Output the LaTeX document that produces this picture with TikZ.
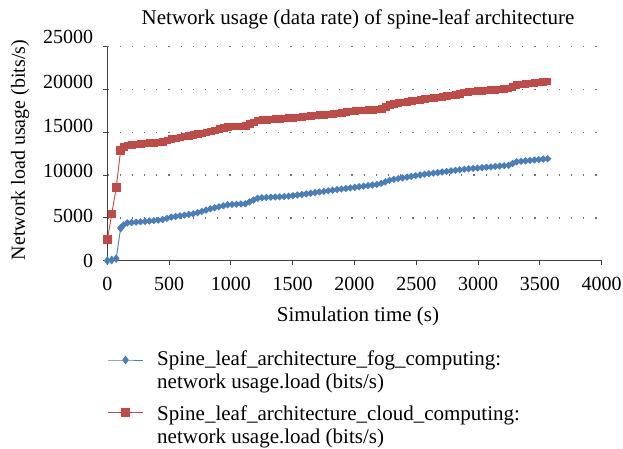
\documentclass[tikz,border=0pt]{standalone}
\usepackage{fontspec}
\setmainfont{Liberation Serif}
\usetikzlibrary{plotmarks,decorations.markings}

\definecolor{fogblue}{HTML}{4A7EBB}
\definecolor{cloudred}{HTML}{BE4B48}

\tikzset{
  every node/.style={font=\fontsize{21}{23.3}\selectfont, inner sep=0pt},
  ticklabel/.style={font=\fontsize{20}{22}\selectfont},
  axisline/.style={black!75, line width=0.9pt},
  gridline/.style={black!55, line width=1.3pt, dash pattern=on 1.3pt off 10.9pt},
  fogline/.style={fogblue, line width=0.9pt},
  cloudline/.style={cloudred, line width=0.9pt},
  fogmarks/.style={postaction={decorate}, decoration={markings,
      mark=between positions 0 and 1 step 4.45pt with {\pgftransformresetnontranslations
        \fill[fogblue] (0,3.7pt) -- (3.7pt,0) -- (0,-3.7pt) -- (-3.7pt,0) -- cycle;}}},
  cloudmarks/.style={postaction={decorate}, decoration={markings,
      mark=between positions 0 and 1 step 4.45pt with {\pgftransformresetnontranslations
        \fill[cloudred] (-3.8pt,-3.8pt) rectangle (3.8pt,3.8pt);}}},
}

\begin{document}
\begin{tikzpicture}[x=1pt,y=1pt]
  \useasboundingbox (0,0) rectangle (623,449);
  \node (title) [anchor=base] at (358,424) {Network usage (data rate) of spine-leaf architecture};
  \node (ylabel) [ticklabel, rotate=90] at (20,299) {Network load usage (bits/s)};
  \node (xlabel) [anchor=base] at (358,127) {Simulation time (s)};

  \begin{scope}[shift={(107.3,188.3)}, x=0.1236pt, y=8.56pt]
    % grid and axes
    \foreach \v in {5,10,...,25}
      \draw[gridline] (0,\v) -- (4000,\v);
    \draw[axisline] (0,25) -- (0,0) -- (4000,0);
    \foreach \t in {0,500,...,4000} {
      \draw[axisline] (\t,0) -- ++(0,-4pt);
      \node (xt\t) [ticklabel, anchor=north] at (\t,0) [yshift=-16pt] {\t};
    }
    \foreach \v/\lab [count=\i from 0] in {0/0,5/5000,10/10000,15/15000,20/20000,25/25000} {
      \draw[axisline] (0,\v) -- ++(-4pt,0);
      \node (yt\i) [ticklabel, anchor=east] at (0,\v) [xshift=-14pt, yshift=2pt*\i] {\lab};
    }

    % cloud computing
    \draw[cloudline] plot[mark=square*, mark size=3.8pt, mark options={cloudred}]
      coordinates {(0,2.45) (36,5.45) (72,8.55) (108,12.9)};
    \draw[cloudline, cloudmarks] (108,12.9) -- (145,13.4) -- (300,13.7) -- (433,13.8)
      -- (520,14.2) -- (706,14.7) -- (843,15.1) -- (980,15.65) -- (1117,15.7)
      -- (1226,16.4) -- (1445,16.6) -- (1582,16.8) -- (1801,17.1) -- (2020,17.5)
      -- (2225,17.7) -- (2294,18.25) -- (2567,18.85) -- (2841,19.4) -- (2896,19.7)
      -- (3251,20.1) -- (3306,20.5) -- (3590,21.0);

    % fog computing
    \draw[fogline] plot[mark=diamond*, mark size=3.7pt, mark options={fogblue}]
      coordinates {(0,0) (36,0.08) (72,0.25) (108,3.8)};
    \draw[fogline, fogmarks] (108,3.8) -- (145,4.4) -- (433,4.75) -- (520,5.1)
      -- (706,5.5) -- (843,6.1) -- (980,6.55) -- (1117,6.65) -- (1226,7.35)
      -- (1445,7.5) -- (1582,7.75) -- (1801,8.2) -- (2020,8.6) -- (2200,8.95)
      -- (2294,9.45) -- (2567,10.1) -- (2896,10.7) -- (3251,11.15) -- (3306,11.55)
      -- (3590,11.95);
  \end{scope}

  % legend
  \node (fogkey) [anchor=north west, align=left] at (157,98.3)
    {Spine\_leaf\_architecture\_fog\_computing:\\network usage.load (bits/s)};
  \node (cloudkey) [anchor=north west, align=left] at (157,43.3)
    {Spine\_leaf\_architecture\_cloud\_computing:\\network usage.load (bits/s)};
  \coordinate (foga) at (108,89);
  \coordinate (fogm) at (125.5,89);
  \coordinate (fogb) at (143,89);
  \coordinate (clouda) at (108,36.3);
  \coordinate (cloudm) at (125.5,36.3);
  \coordinate (cloudb) at (143,36.3);
  \draw[fogline] plot[mark=diamond*, mark size=3.7pt, mark indices={2}, mark options={fogblue}]
    coordinates {(foga) (fogm) (fogb)};
  \draw[cloudline] plot[mark=square*, mark size=3.8pt, mark indices={2}, mark options={cloudred}]
    coordinates {(clouda) (cloudm) (cloudb)};
\end{tikzpicture}
\end{document}
